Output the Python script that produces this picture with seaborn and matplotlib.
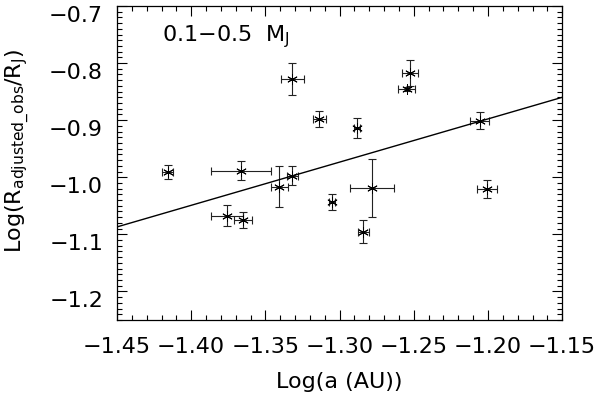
import numpy as np
import pandas as pd
import matplotlib
matplotlib.use('Agg')
import matplotlib.pyplot as plt
import seaborn as sns
from matplotlib.ticker import MultipleLocator

# values
log_a = [-1.3318, -1.3136, -1.2880, -1.2525, -1.2547, -1.2057, -1.4158, -1.3664,
         -1.3318, -1.3408, -1.3758, -1.3650, -1.3050, -1.2779, -1.2840, -1.2004]
log_r = [-0.828, -0.898, -0.9135, -0.8175, -0.8456, -0.9007, -0.991, -0.989,
         -0.997, -1.0165, -1.0673, -1.0744, -1.0439, -1.0193, -1.0954, -1.021]
a_err = [0.0075, 0.0045, 0.0020, 0.0054, 0.0058, 0.0067, 0.0036, 0.0205,
         0.0035, 0.0057, 0.0108, 0.0062, 0.0020, 0.0148, 0.0035, 0.0067]
r_err = [0.028, 0.014, 0.017, 0.022, 0.004, 0.0143, 0.0117, 0.0167,
         0.017, 0.0357, 0.018, 0.0137, 0.0137, 0.051, 0.020, 0.0158]

fit_x = [-1.45, -1.15]
fit_y = [-1.087, -0.860]

x_ticklabels = ['−1.45', '−1.40', '−1.35', '−1.30', '−1.25', '−1.20', '−1.15']
y_ticklabels = ['−1.2', '−1.1', '−1.0', '−0.9', '−0.8', '−0.7']

df = pd.DataFrame({'log_a': log_a, 'log_r': log_r})

sns.set_style('ticks')
plt.rcParams['font.family'] = ['DejaVu Sans']
plt.rcParams['mathtext.fontset'] = 'dejavusans'
plt.rcParams['text.color'] = 'black'
plt.rcParams['axes.labelcolor'] = 'black'
plt.rcParams['xtick.color'] = 'black'
plt.rcParams['ytick.color'] = 'black'

FS = 16

fig = plt.figure(figsize=(6.0, 3.97), dpi=100)
ax = fig.add_axes([0.195, 0.194, 0.742, 0.791])

# error bars
ax.errorbar(log_a, log_r, xerr=a_err, yerr=r_err, fmt='none',
            ecolor='#222222', elinewidth=0.8, capsize=3, capthick=0.8)
# asterisk markers
sns.scatterplot(data=df, x='log_a', y='log_r', marker=(6, 2, 0), s=50,
                color='black', linewidth=0.7, ax=ax, zorder=3)
# fitted line
sns.lineplot(x=fit_x, y=fit_y, color='black', linewidth=1.0, ax=ax)

ax.set_xlim(-1.45, -1.15)
ax.set_ylim(-1.25, -0.7)
ax.set_xticks(np.arange(-1.45, -1.149, 0.05))
ax.set_xticklabels(x_ticklabels)
ax.set_yticks(np.arange(-1.2, -0.69, 0.1))
ax.set_yticklabels(y_ticklabels)
ax.xaxis.set_minor_locator(MultipleLocator(0.01))
ax.yaxis.set_minor_locator(MultipleLocator(0.01))

ax.tick_params(which='both', direction='in', top=True, right=True,
               labelsize=FS, width=0.8, color='black', labelcolor='black')
ax.tick_params(axis='x', which='major', length=7, pad=12)
ax.tick_params(axis='y', which='major', length=7, pad=10)
ax.tick_params(which='minor', length=3.5)
# IDL-style: y labels hang just below their tick
for lab in ax.get_yticklabels():
    lab.set_va('top')
for s in ax.spines.values():
    s.set_linewidth(0.9)
    s.set_color('black')

ax.set_xlabel('Log(a (AU))', fontsize=FS, labelpad=11)
ax.set_ylabel(r'Log(R$_{\rm adjusted\_obs}$/R$_{\rm J}$)', fontsize=FS)
ax.yaxis.set_label_coords(-0.19, 0.54)
ax.text(-1.42, -0.753, r'0.1$-$0.5  M$_{\rm J}$', fontsize=FS, va='center', ha='left')

fig.savefig('out.png', dpi=100)
